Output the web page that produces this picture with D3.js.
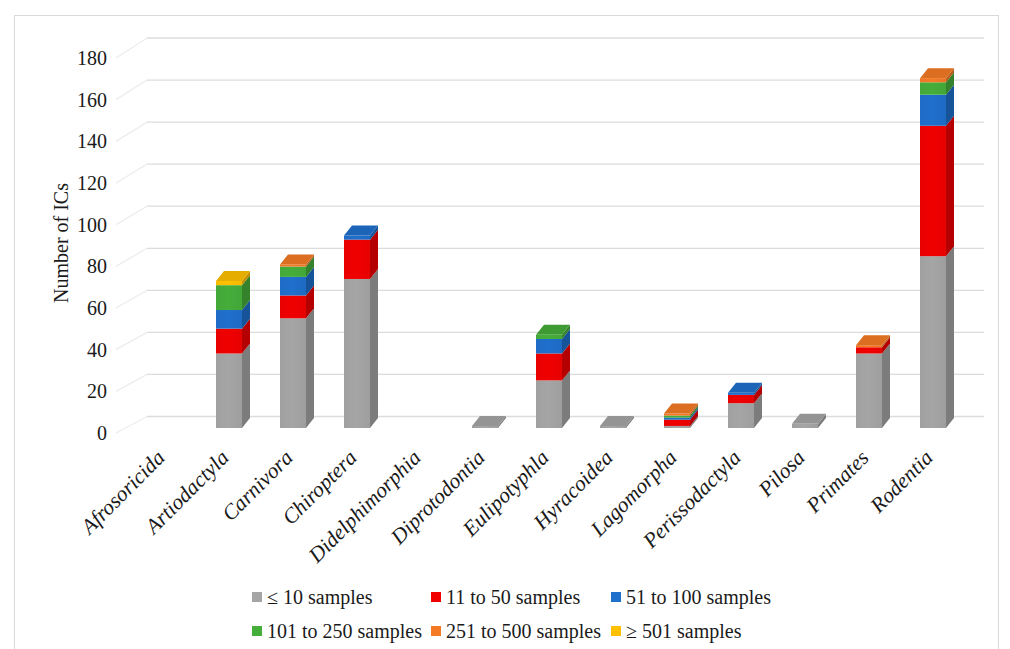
<!DOCTYPE html>
<html>
<head>
<meta charset="utf-8">
<script src="https://cdn.jsdelivr.net/npm/d3@7"></script>
<style>
  html, body { margin: 0; padding: 0; background: #ffffff; }
  svg { display: block; font-family: "Liberation Serif", "Times New Roman", serif; }
</style>
</head>
<body>
<svg id="chart" width="1010" height="649"></svg>
<script>
// Orders (x axis)
const categories = ["Afrosoricida", "Artiodactyla", "Carnivora", "Chiroptera", "Didelphimorphia",
  "Diprotodontia", "Eulipotyphla", "Hyracoidea", "Lagomorpha", "Perissodactyla", "Pilosa",
  "Primates", "Rodentia"];

// Number of ICs per sample-size class
const upTo10     = [0, 36, 53, 72, 0, 1, 23, 1, 1, 12, 2, 36, 83];
const from11to50 = [0, 12, 11, 19, 0, 0, 13, 0, 3, 4, 0, 3, 63];
const from51to100 = [0, 9, 9, 2, 0, 0, 7, 0, 1, 1, 0, 0, 15];
const from101to250 = [0, 12, 5, 0, 0, 0, 2, 0, 1, 0, 0, 0, 6];
const from251to500 = [0, 0, 1, 0, 0, 0, 0, 0, 1, 0, 0, 1, 2];
const from501 = [0, 2, 0, 0, 0, 0, 0, 0, 0, 0, 0, 0, 0];

const seriesNames = ["≤ 10 samples", "11 to 50 samples", "51 to 100 samples",
  "101 to 250 samples", "251 to 500 samples", "≥ 501 samples"];
const seriesValues = [upTo10, from11to50, from51to100, from101to250, from251to500, from501];
const seriesColors = ["#a5a5a5", "#f00000", "#1f6fcc", "#45ad3a", "#f57a25", "#ffc000"];

const yTicks = [0, 20, 40, 60, 80, 100, 120, 140, 160, 180];

const svg = d3.select("#chart");

// Chart frame
svg.append("rect")
  .attr("x", 14.5).attr("y", 15.5)
  .attr("width", 984).attr("height", 660)
  .attr("fill", "#ffffff")
  .attr("stroke", "#d9d9d9").attr("stroke-width", 1);

// Scales: tick labels sit on the front edge, gridlines on the back wall, bars in between
const yLabel = d3.scaleLinear().domain([0, 180]).range([433, 58]);
const yBack = d3.scaleLinear().domain([0, 180]).range([416.5, 38]);
const yFront = d3.scaleLinear().domain([0, 180]).range([428, 55.4]);
const x = d3.scalePoint().domain(categories).range([165, 933]);

const barW = 26;       // front face width
const depthX = 8;      // oblique depth offset of the bar
const depthY = -10;
const wallLeft = 147, wallRight = 984, sideLeft = 116;

// Back-wall gridlines plus their run across the left side wall
const grid = svg.append("g").attr("stroke", "#dcdcdc").attr("stroke-width", 1.3).attr("fill", "none");
grid.selectAll("line.back").data(yTicks).join("line")
  .attr("class", "back")
  .attr("x1", wallLeft).attr("x2", wallRight)
  .attr("y1", d => yBack(d)).attr("y2", d => yBack(d));
grid.selectAll("line.side").data(yTicks).join("line")
  .attr("class", "side")
  .attr("stroke", "#ededed")
  .attr("x1", sideLeft).attr("x2", wallLeft)
  .attr("y1", d => yLabel(d)).attr("y2", d => yBack(d));

// Y axis labels
const yAxis = d3.axisLeft(yLabel).tickValues(yTicks).tickSize(0).tickPadding(0);
const yg = svg.append("g").attr("transform", "translate(107,0)").call(yAxis);
yg.select(".domain").remove();
yg.selectAll("text")
  .attr("font-family", "Liberation Serif, serif")
  .attr("font-size", 20).attr("fill", "#1a1a1a");

svg.append("text")
  .attr("transform", "translate(68,243) rotate(-90)")
  .attr("text-anchor", "middle")
  .attr("font-size", 20).attr("fill", "#1a1a1a")
  .text("Number of ICs");

// Stacked data
const rows = categories.map((c, i) => {
  const r = { category: c };
  seriesNames.forEach((s, k) => { r[s] = seriesValues[k][i]; });
  return r;
});
const stacked = d3.stack().keys(seriesNames)(rows);

const shade = (col, k) => d3.color(col).darker(k).formatHex();

// Soft lighting across each front face
const defs = svg.append("defs");
seriesColors.forEach((col, k) => {
  const lg = defs.append("linearGradient").attr("id", "front" + k)
    .attr("x1", 0).attr("x2", 1).attr("y1", 0).attr("y2", 0);
  lg.append("stop").attr("offset", 0).attr("stop-color", shade(col, 0.08));
  lg.append("stop").attr("offset", 0.45).attr("stop-color", col);
  lg.append("stop").attr("offset", 1).attr("stop-color", shade(col, 0.12));
});

const bars = svg.append("g");
categories.forEach((cat, i) => {
  const cx = x(cat);
  const x0 = cx - barW / 2, x1 = cx + barW / 2;
  const g = bars.append("g");
  let topLayer = -1;
  stacked.forEach((layer, k) => {
    const d = layer[i];
    if (d[1] - d[0] <= 0) return;
    topLayer = k;
    const yt = yFront(d[1]), yb = yFront(d[0]);
    const col = seriesColors[k];
    // side face
    g.append("path")
      .attr("d", `M${x1},${yb}L${x1 + depthX},${yb + depthY}L${x1 + depthX},${yt + depthY}L${x1},${yt}Z`)
      .attr("fill", shade(col, 0.8));
    // front face
    g.append("rect")
      .attr("x", x0).attr("y", yt)
      .attr("width", barW).attr("height", yb - yt)
      .attr("fill", `url(#front${k})`);
  });
  if (topLayer >= 0) {
    const yt = yFront(stacked[topLayer][i][1]);
    g.append("path")
      .attr("d", `M${x0},${yt}L${x0 + depthX},${yt + depthY}L${x1 + depthX},${yt + depthY}L${x1},${yt}Z`)
      .attr("fill", shade(seriesColors[topLayer], 0.3));
  }
});

// X axis category labels
svg.append("g").selectAll("text").data(categories).join("text")
  .attr("transform", d => `translate(${x(d) + 1},${459}) rotate(-45)`)
  .attr("text-anchor", "end")
  .attr("font-style", "italic")
  .attr("font-size", 21.5)
  .attr("fill", "#1a1a1a")
  .text(d => d);

// Legend
const legendCols = [252, 431, 611];
const legendRows = [597, 631];
const legend = svg.append("g").selectAll("g").data(seriesNames).join("g")
  .attr("transform", (d, i) => `translate(${legendCols[i % 3]},${legendRows[Math.floor(i / 3)]})`);
legend.append("rect")
  .attr("x", 0).attr("y", -5).attr("width", 10).attr("height", 10)
  .attr("fill", (d, i) => seriesColors[i]);
legend.append("text")
  .attr("x", 15).attr("y", 0).attr("dy", "0.35em")
  .attr("font-size", 20).attr("fill", "#1a1a1a")
  .text(d => d);
</script>
</body>
</html>
